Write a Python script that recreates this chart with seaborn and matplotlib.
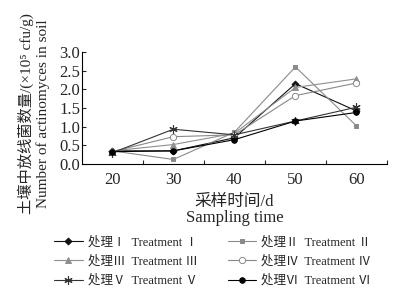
import numpy as np
import pandas as pd
import matplotlib
matplotlib.use("Agg")
import matplotlib.pyplot as plt
import seaborn as sns

# sampling days and actinomyces counts (x10^5 cfu/g)
days = [20, 30, 40, 50, 60]
treat_1 = [0.35, 0.35, 0.70, 2.15, 1.42]
treat_2 = [0.35, 0.12, 0.85, 2.60, 1.02]
treat_3 = [0.35, 0.52, 0.82, 2.05, 2.28]
treat_4 = [0.33, 0.73, 0.78, 1.83, 2.17]
treat_5 = [0.30, 0.93, 0.78, 1.15, 1.52]
treat_6 = [0.33, 0.35, 0.65, 1.15, 1.38]

labels = ["处理Ⅰ  Treatment Ⅰ", "处理Ⅱ  Treatment Ⅱ", "处理Ⅲ  Treatment Ⅲ",
          "处理Ⅳ  Treatment Ⅳ", "处理Ⅴ  Treatment Ⅴ", "处理Ⅵ  Treatment Ⅵ"]

sns.set_theme(style="ticks")
plt.rcParams["font.family"] = ["Liberation Serif", "Noto Sans CJK SC", "DejaVu Sans"]

fig = plt.figure(figsize=(4.01, 2.97), dpi=100)
ax = fig.add_axes([0.204, 0.448, 0.761, 0.377])

styles = [
    (treat_1, "D", "#111111", "#111111", 3.5),
    (treat_2, "s", "#8a8a8a", "#8a8a8a", 3.5),
    (treat_3, "^", "#8f8f8f", "#8f8f8f", 4),
    (treat_4, "o", "#888888", "white", 4.5),
    (treat_5, "x", "#333333", "#333333", 6),
    (treat_6, "o", "#000000", "#000000", 4),
]
for (vals, mk, col, face, ms), lab in zip(styles, labels):
    if mk == "x":
        # asterisk-like star marker
        sns.lineplot(x=days, y=vals, ax=ax, color=col, linewidth=0.8, label=lab,
                     marker=(6, 2, 0), markersize=ms, markeredgecolor=col,
                     markeredgewidth=0.8)
    else:
        sns.lineplot(x=days, y=vals, ax=ax, color=col, linewidth=0.8, label=lab,
                     marker=mk, markersize=ms, markerfacecolor=face,
                     markeredgecolor=col, markeredgewidth=0.7)

ax.set_xlim(15, 65)
ax.set_ylim(0, 3.0)
ax.set_xticks(days)
ax.set_xticks([25, 35, 45, 55, 65], minor=True)
ax.set_yticks(np.arange(0, 3.01, 0.5))
ax.set_yticklabels([f"{v:.1f}" for v in np.arange(0, 3.01, 0.5)])
ax.tick_params(axis="x", which="major", length=0, labelsize=12, pad=6)
ax.tick_params(axis="x", which="minor", length=3, direction="in", width=0.8)
ax.tick_params(axis="y", length=3, direction="in", width=0.8, labelsize=12, pad=1)
for s in ["top", "right"]:
    ax.spines[s].set_visible(False)
for s in ["left", "bottom"]:
    ax.spines[s].set_linewidth(0.8)
    ax.spines[s].set_color("black")

ax.set_xlabel("采样时间/d\nSampling time", fontsize=12, linespacing=1.0, labelpad=4)
ax.set_ylabel("土壤中放线菌数量/(×10⁵ cfu/g)\nNumber of actinomyces in soil",
              fontsize=11, linespacing=1.2, labelpad=7)
ax.yaxis.label.set_y(0.45)

# row-wise legend order: I II / III IV / V VI
handles, labs = ax.get_legend_handles_labels()
order = [0, 2, 4, 1, 3, 5]
ax.get_legend().remove()
fig.legend([handles[i] for i in order], [labs[i] for i in order],
           loc="upper left", bbox_to_anchor=(54 / 401, 1 - 236 / 297), ncol=2,
           frameon=False, fontsize=9, handlelength=2.3, handletextpad=0.4,
           columnspacing=2.4, labelspacing=0.55, borderpad=0, borderaxespad=0)

fig.savefig("out.png", dpi=100)
